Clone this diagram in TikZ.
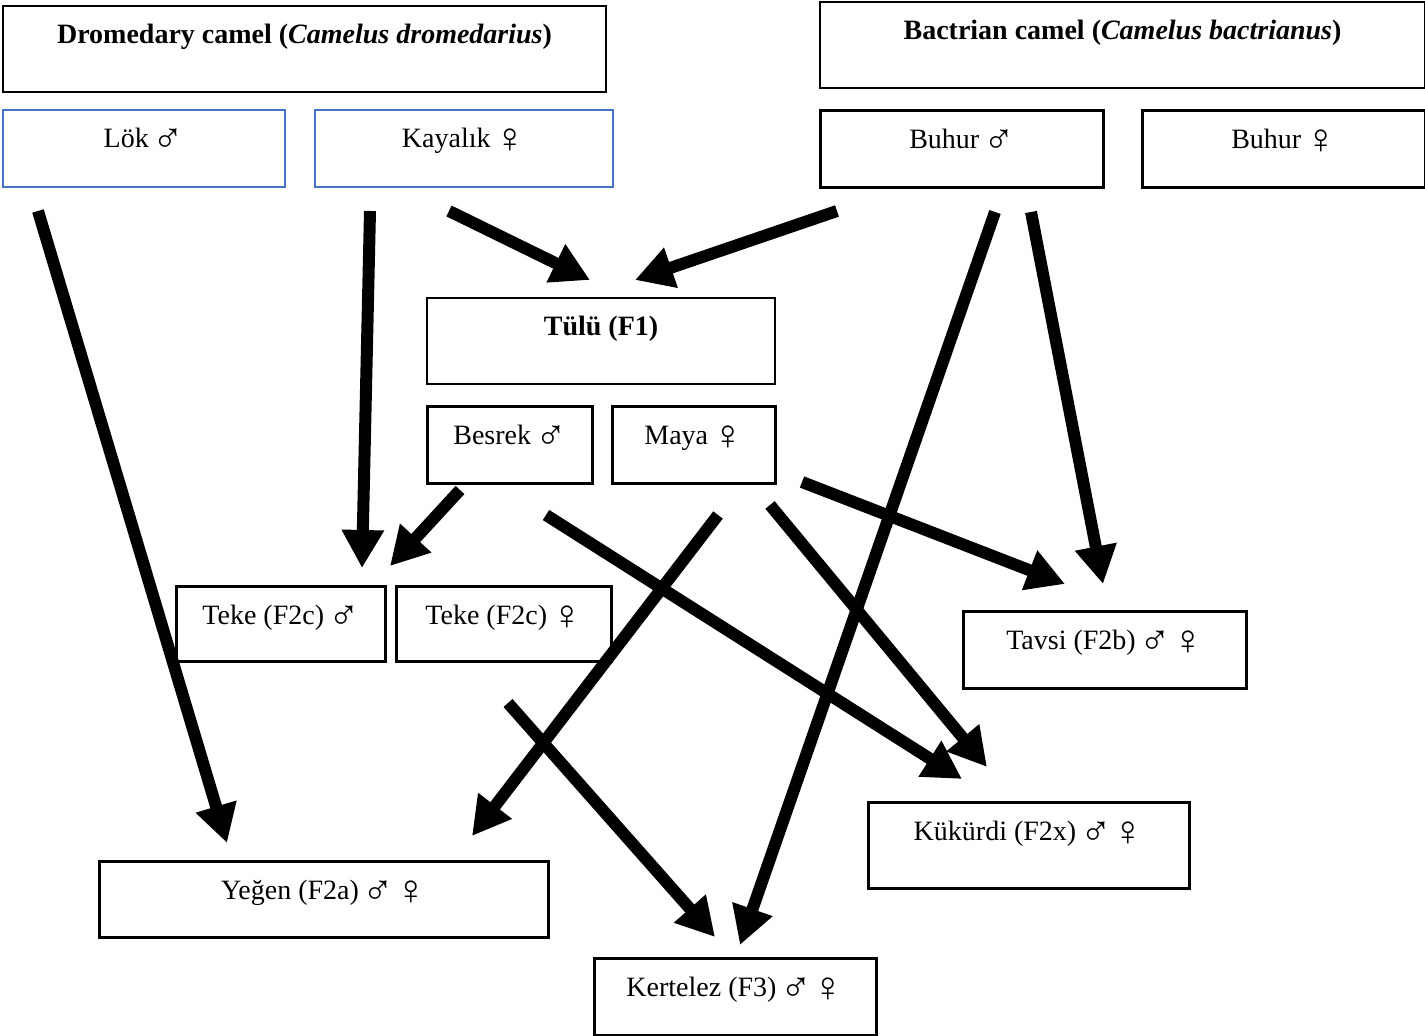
\documentclass[tikz,border=0pt]{standalone}
\usepackage{fontspec}
\setmainfont{Liberation Serif}
\usetikzlibrary{arrows.meta,positioning}
\definecolor{boxblue}{HTML}{4472C4}
\newcommand{\gsym}[1]{\hspace{-1.5pt}\raisebox{-2.5pt}{\fontsize{21}{21}\selectfont #1}\hspace{-1.5pt}}

\begin{document}
\begin{tikzpicture}[x=0.5pt, y=-0.5pt,
    box/.style={draw, rectangle, line width=1pt, anchor=north west, inner sep=0pt,
        text height=19pt, text depth=19.5pt, font=\fontsize{14}{16}\selectfont},
    head/.style={box, text depth=24pt},
    bluebox/.style={box, draw=boxblue},
    thickbox/.style={box, line width=1.5pt},
    arr/.style={line width=6pt, -{Triangle[length=19pt,width=20pt]}}]
    \useasboundingbox (0,0) rectangle (1425,1036);

    % Parents
    \node (dromedary) [head, minimum width=301.5pt] at (2,5) {\textbf{Dromedary camel (\textit{Camelus dromedarius})}};
    \node (bactrian) [head, minimum width=302.5pt] at (819,1) {\textbf{Bactrian camel (\textit{Camelus bactrianus})}};
    \node (lok) [bluebox, minimum width=141pt] at (2,109) {Lök \gsym{♂}};
    \node (kayalik) [bluebox, minimum width=149pt] at (314,109) {Kayalık \gsym{♀}};
    \node (buhurM) [thickbox, minimum width=141.5pt] at (819,109) {Buhur \gsym{♂}};
    \node (buhurF) [thickbox, minimum width=141.5pt] at (1141,109) {Buhur \gsym{♀}};

    % F1
    \node (tulu) [head, minimum width=174pt] at (426,297) {\textbf{Tülü (F1)}};
    \node (besrek) [thickbox, minimum width=82.5pt] at (426,405) {Besrek \gsym{♂}};
    \node (maya) [thickbox, minimum width=81.5pt] at (611,405) {Maya \gsym{♀}};

    % F2 and F3
    \node (tekeM) [thickbox, minimum width=104.5pt, text depth=18.5pt] at (175,585) {Teke (F2c) \gsym{♂}};
    \node (tekeF) [thickbox, minimum width=107.5pt, text depth=18.5pt] at (395,585) {Teke (F2c) \gsym{♀}};
    \node (tavsi) [thickbox, minimum width=141.5pt] at (962,610) {Tavsi (F2b) \gsym{♂} \gsym{♀}};
    \node (kukurdi) [thickbox, minimum width=160.5pt, text depth=24pt] at (867,801) {Kükürdi (F2x) \gsym{♂} \gsym{♀}};
    \node (yegen) [thickbox, minimum width=224.5pt, text depth=19pt] at (98,860) {Yeğen (F2a) \gsym{♂} \gsym{♀}};
    \node (kertelez) [thickbox, minimum width=141pt] at (593,957) {Kertelez (F3) \gsym{♂} \gsym{♀}};

    % Arrow ends
    \coordinate (lok out) at (38,211);
    \coordinate (kayalik out a) at (370,211);
    \coordinate (kayalik out b) at (449,211);
    \coordinate (buhur out a) at (837,211);
    \coordinate (buhur out b) at (995,212);
    \coordinate (buhur out c) at (1031,212);
    \coordinate (besrek out a) at (460,490);
    \coordinate (besrek out b) at (546,515);
    \coordinate (maya out a) at (718,515);
    \coordinate (maya out b) at (770,505);
    \coordinate (maya out c) at (802,482);
    \coordinate (teke out) at (508,703);
    \coordinate (tulu in a) at (590,280);
    \coordinate (tulu in b) at (635,280);
    \coordinate (teke in a) at (362,568);
    \coordinate (teke in b) at (390,566);
    \coordinate (tavsi in a) at (1065,584);
    \coordinate (tavsi in b) at (1103,584);
    \coordinate (kukurdi in a) at (962,779);
    \coordinate (kukurdi in b) at (987,767);
    \coordinate (yegen in a) at (227,843);
    \coordinate (yegen in b) at (472,836);
    \coordinate (kertelez in a) at (715,937);
    \coordinate (kertelez in b) at (740,945);

    % Arrows
    \draw[arr] (lok out) -- (yegen in a);
    \draw[arr] (kayalik out a) -- (teke in a);
    \draw[arr] (kayalik out b) -- (tulu in a);
    \draw[arr] (buhur out a) -- (tulu in b);
    \draw[arr] (buhur out b) -- (kertelez in b);
    \draw[arr] (buhur out c) -- (tavsi in b);
    \draw[arr] (besrek out a) -- (teke in b);
    \draw[arr] (besrek out b) -- (kukurdi in a);
    \draw[arr] (maya out a) -- (yegen in b);
    \draw[arr] (maya out b) -- (kukurdi in b);
    \draw[arr] (maya out c) -- (tavsi in a);
    \draw[arr] (teke out) -- (kertelez in a);
\end{tikzpicture}
\end{document}
